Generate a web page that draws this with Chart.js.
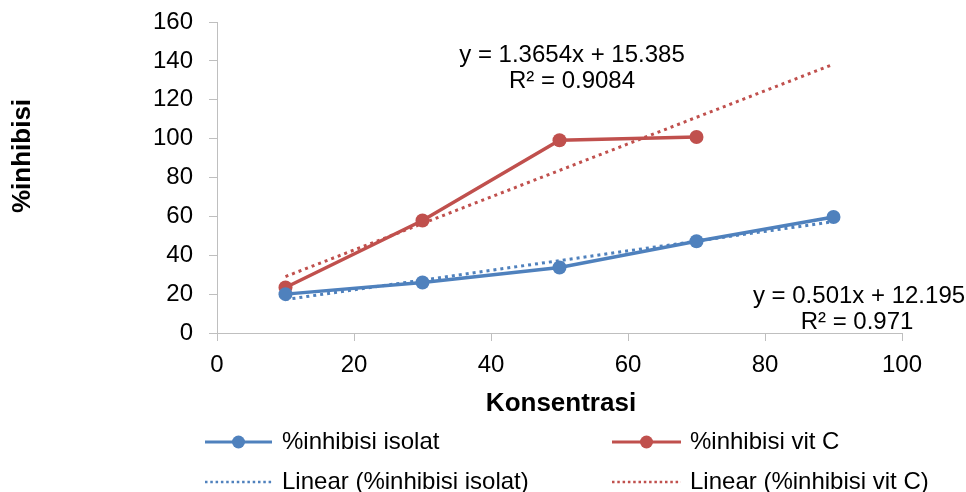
<!DOCTYPE html>
<html>
<head>
<meta charset="utf-8">
<script src="https://cdn.jsdelivr.net/npm/chart.js@4/dist/chart.umd.min.js"></script>
<style>
  html, body { margin: 0; padding: 0; background: #ffffff; }
  #wrap { width: 966px; height: 492px; }
</style>
</head>
<body>
<div id="wrap"><canvas id="chart" width="966" height="492"></canvas></div>
<script>
// Measured inhibition (%) against concentration
const isolatConc = [10, 30, 50, 70, 90];
const isolatValues = [20, 26, 33.7, 47.2, 59.7];
const vitCConc = [10, 30, 50, 70];
const vitCValues = [23.4, 57.9, 99.2, 100.8];

// Linear trend coefficients [slope, intercept, R²]
const isolatFit = [0.501, 12.195, 0.971];
const vitCFit = [1.3654, 15.385, 0.9084];
const fitRange = [10, 90];

// Axis ticks
const xTicks = [0, 20, 40, 60, 80, 100];
const yTicks = [0, 20, 40, 60, 80, 100, 120, 140, 160];

const seriesNames = ['%inhibisi isolat', '%inhibisi vit C'];
const trendNames = ['Linear (%inhibisi isolat)', 'Linear (%inhibisi vit C)'];
const xTitle = 'Konsentrasi';
const yTitle = '%inhibisi';

const BLUE = '#4f81bd';
const RED = '#c0504d';
const AXIS = '#bfbfbf';
const FONT = '"Liberation Sans", Arial, sans-serif';

function pairs(xs, ys) { return xs.map((x, i) => ({ x: x, y: ys[i] })); }
function fitLine(fit) { return fitRange.map(x => ({ x: x, y: fit[0] * x + fit[1] })); }
function fmtEq(fit) { return 'y = ' + fit[0] + 'x + ' + fit[1]; }
function fmtR2(fit) { return 'R\u00B2 = ' + fit[2]; }

// Titles, trendline equations and the two-column legend
const decorations = {
  id: 'decorations',
  afterDraw(chart) {
    const ctx = chart.ctx;
    ctx.save();
    ctx.fillStyle = '#000';
    ctx.textBaseline = 'middle';

    // axis titles
    ctx.font = 'bold 26px ' + FONT;
    ctx.textAlign = 'center';
    ctx.fillText(xTitle, 561, 404);
    ctx.save();
    ctx.translate(23, 156);
    ctx.rotate(-Math.PI / 2);
    ctx.fillText(yTitle, 0, 0);
    ctx.restore();

    // equations
    ctx.font = '24px ' + FONT;
    ctx.fillText(fmtEq(vitCFit), 572, 55);
    ctx.fillText(fmtR2(vitCFit), 572, 81);
    ctx.fillText(fmtEq(isolatFit), 859, 296);
    ctx.fillText(fmtR2(isolatFit), 857, 322);

    // legend
    const cols = [{ x0: 205, x1: 272, tx: 282, color: BLUE }, { x0: 612, x1: 681, tx: 690, color: RED }];
    const rows = [442, 482];
    ctx.textAlign = 'left';
    cols.forEach((c, i) => {
      // series swatch
      ctx.strokeStyle = c.color;
      ctx.lineWidth = 3;
      ctx.setLineDash([]);
      ctx.beginPath();
      ctx.moveTo(c.x0, rows[0]);
      ctx.lineTo(c.x1, rows[0]);
      ctx.stroke();
      ctx.fillStyle = c.color;
      ctx.beginPath();
      ctx.arc((c.x0 + c.x1) / 2, rows[0], 6.5, 0, Math.PI * 2);
      ctx.fill();
      // trend swatch
      ctx.lineWidth = 2.5;
      ctx.setLineDash([2.5, 2.8]);
      ctx.beginPath();
      ctx.moveTo(c.x0, rows[1]);
      ctx.lineTo(c.x1, rows[1]);
      ctx.stroke();
      ctx.setLineDash([]);
      ctx.fillStyle = '#000';
      ctx.fillText(seriesNames[i], c.tx, rows[0]);
      ctx.fillText(trendNames[i], c.tx, rows[1]);
    });
    ctx.restore();
  }
};

new Chart(document.getElementById('chart'), {
  type: 'scatter',
  data: {
    datasets: [
      {
        label: seriesNames[0],
        data: pairs(isolatConc, isolatValues),
        showLine: true,
        borderColor: BLUE,
        backgroundColor: BLUE,
        borderWidth: 3.5,
        pointRadius: 7,
        pointHoverRadius: 7,
        pointBorderWidth: 0,
        order: 0
      },
      {
        label: seriesNames[1],
        data: pairs(vitCConc, vitCValues),
        showLine: true,
        borderColor: RED,
        backgroundColor: RED,
        borderWidth: 3.5,
        pointRadius: 7,
        pointHoverRadius: 7,
        pointBorderWidth: 0,
        order: 0
      },
      {
        label: trendNames[0],
        data: fitLine(isolatFit),
        showLine: true,
        borderColor: BLUE,
        borderWidth: 3,
        borderDash: [3, 4],
        pointRadius: 0,
        order: 1
      },
      {
        label: trendNames[1],
        data: fitLine(vitCFit),
        showLine: true,
        borderColor: RED,
        borderWidth: 3,
        borderDash: [3, 4],
        pointRadius: 0,
        order: 1
      }
    ]
  },
  options: {
    responsive: false,
    animation: false,
    devicePixelRatio: 1,
    layout: { padding: { top: 22, right: 64, left: 0, bottom: 0 } },
    plugins: {
      legend: { display: false },
      tooltip: { enabled: false }
    },
    scales: {
      x: {
        type: 'linear',
        min: 0,
        max: 100,
        afterBuildTicks(scale) { scale.ticks = xTicks.map(v => ({ value: v })); },
        afterFit(scale) { scale.height = 159; scale.paddingLeft = 0; scale.paddingRight = 0; },
        grid: { display: true, drawOnChartArea: false, drawTicks: true, tickLength: 8, color: AXIS, lineWidth: 1 },
        border: { display: true, color: AXIS, width: 1 },
        ticks: { color: '#000', font: { family: FONT, size: 24 }, padding: 10, maxRotation: 0 }
      },
      y: {
        type: 'linear',
        min: 0,
        max: 160,
        afterBuildTicks(scale) { scale.ticks = yTicks.map(v => ({ value: v })); },
        afterFit(scale) { scale.width = 217; scale.paddingTop = 0; scale.paddingBottom = 0; },
        grid: { display: true, drawOnChartArea: false, drawTicks: true, tickLength: 8, color: AXIS, lineWidth: 1 },
        border: { display: true, color: AXIS, width: 1 },
        ticks: { color: '#000', font: { family: FONT, size: 24 }, padding: 16 }
      }
    }
  },
  plugins: [decorations]
});
</script>
</body>
</html>
